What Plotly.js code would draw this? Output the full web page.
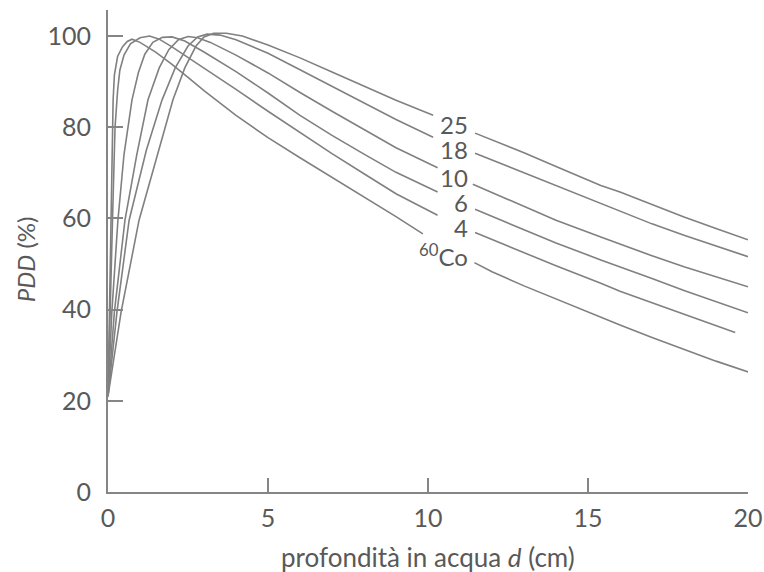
<!DOCTYPE html>
<html>
<head>
<meta charset="utf-8">
<script src="https://cdn.plot.ly/plotly-3.0.1.min.js"></script>
<style>html,body{margin:0;padding:0;background:#fff;}#chart{width:764px;height:572px;}</style>
</head>
<body>
<div id="chart"></div>
<script>
// Depth (cm) and PDD (%) for each beam; null marks the gap behind the curve label
const co60_d = [0,0.04,0.1,0.16,0.2,0.3,0.45,0.6,0.75,1.0,1.5,2,2.5,3,4,5,6,7,8,9,9.84,null,11.45,12,13,14,15,16,17,18,19,20.1];
const co60_p = [21,39.5,59.6,86,91.5,95.5,97.6,98.8,99.3,98.6,96.4,93.8,90.9,88.0,82.6,77.7,73.3,69,64.7,60.4,56.6,null,50.3,48.3,45.2,42.3,39.4,36.6,33.9,31.3,28.7,26.1];

const mv4_d = [0,0.06,0.14,0.22,0.3,0.37,0.5,0.7,1.0,1.3,1.6,2,3,4,5,6,7,8,9,10.3,null,11.47,13,14,15.4,16,17,18,19,19.6];
const mv4_p = [21,39.5,59.6,80,88,92.5,95.8,98.3,99.6,100,99.3,97.6,93,88.3,83.5,78.8,74.2,69.8,65.4,60.7,null,56.9,52.4,49.6,45.8,44.0,41.5,39.0,36.5,35.0];

const mv6_d = [0,0.12,0.31,0.5,0.75,0.95,1.15,1.4,1.7,2.0,2.4,3,4,5,6,7,8,9,10.3,null,11.47,13,14,15.4,16,17,18,19,20];
const mv6_p = [21,39.5,59.6,74,86,92,96,98.6,99.7,99.8,98.9,96.5,92.2,87.5,82.6,78.2,74.1,70.1,65.8,null,62,57.5,54.6,50.9,49.3,46.8,44.2,41.7,39.3];

const mv10_d = [0,0.2,0.53,0.9,1.25,1.6,1.9,2.2,2.5,2.8,3.2,4,5,6,7,8,9,10.3,null,11.4,13,14,15.4,16,17,18,19,20];
const mv10_p = [21,39.5,59.6,74,86,93,97,99.2,99.9,99.6,98.6,95.8,91.9,87.6,83.5,79.5,75.5,71.1,null,67.5,62.6,59.6,55.9,54.3,51.8,49.4,47.2,45];

const mv18_d = [0,0.28,0.66,1.2,1.69,2.1,2.5,2.8,3.1,3.5,4,5,6,7,8,9,10.16,null,11.47,13,14,15.4,16,17,18,19,20];
const mv18_p = [21,39.5,59.6,75,86,93,97.8,99.8,100.4,100.2,99.2,96.2,92.6,89,85.4,81.7,77.8,null,74.3,70,67.2,63.2,61.5,58.8,56.3,53.9,51.6];

const mv25_d = [0,0.41,0.97,1.5,2.03,2.4,2.75,3.0,3.3,3.7,4.2,5,6,7,8,9,10.16,null,11.47,13,14,15.4,16,17,18,19,20];
const mv25_p = [21,39.5,59.6,73,86,93,97.8,99.8,100.6,100.6,100,98,95.2,92.1,89,85.9,82.6,null,78.7,74.4,71.4,67.2,65.8,63,60.3,57.8,55.3];

const curveNames = ['<sup>60</sup>Co','4','6','10','18','25'];
const labelX = [11.3, 11.3, 11.3, 11.3, 11.3, 11.3];
const labelY = [52, 57.9, 63.4, 68.9, 75, 80.5];

const xTickVals = [0,5,10,15,20];
const xTickMarks = [5,10,15];
const yTickVals = [0,20,40,60,80,100];

const xTitle = 'profondità in acqua <i>d</i> (cm)';
const yTitle = '<i>PDD</i> (%)';

const lineColor = '#808080';
const textColor = '#595959';
const axisColor = '#858585';
const FONT = 'Lato, "Open Sans", sans-serif';

const series = [[co60_d,co60_p],[mv4_d,mv4_p],[mv6_d,mv6_p],[mv10_d,mv10_p],[mv18_d,mv18_p],[mv25_d,mv25_p]];
const traces = series.map((s,i)=>({
  x: s[0], y: s[1], type:'scatter', mode:'lines', name: curveNames[i],
  line:{color:lineColor, width:1.6}, connectgaps:false, hoverinfo:'skip'
}));
// invisible trace hosting the tick-label axis
traces.push({x:[0,20], y:[0,0], xaxis:'x2', type:'scatter', mode:'lines', line:{width:0}, showlegend:false, hoverinfo:'skip'});

const annotations = curveNames.map((n,i)=>({
  x: labelX[i], y: labelY[i], xref:'x', yref:'y', text:n, showarrow:false,
  xanchor:'right', yanchor:'middle', font:{family:FONT, size:24, color:textColor}
}));
annotations.push({
  x:0.5, y:0, xref:'paper', yref:'paper', yshift:-65, xanchor:'center', yanchor:'middle',
  text:xTitle, showarrow:false, font:{family:FONT, size:26, color:textColor}
});
annotations.push({
  x:0, y:0.483, xref:'paper', yref:'paper', xshift:-83, xanchor:'center', yanchor:'middle',
  text:yTitle, textangle:-90, showarrow:false, font:{family:FONT, size:24, color:textColor}
});

const layout = {
  width:764, height:572,
  margin:{l:108, r:16, t:10, b:80},
  paper_bgcolor:'#fff', plot_bgcolor:'#fff',
  showlegend:false,
  font:{family:FONT, color:textColor},
  xaxis:{
    range:[0,20], tickmode:'array', tickvals:xTickMarks, showticklabels:false,
    ticks:'inside', ticklen:14, tickwidth:2, tickcolor:axisColor,
    showline:true, linecolor:axisColor, linewidth:2, showgrid:false, zeroline:false, fixedrange:true
  },
  xaxis2:{
    overlaying:'x', side:'bottom', range:[0,20], tickmode:'array', tickvals:xTickVals,
    ticks:'', showline:false, showgrid:false, zeroline:false,
    tickfont:{family:FONT, size:25, color:textColor}, ticklabelstandoff:9
  },
  yaxis:{
    range:[0,105.7], tickmode:'array', tickvals:yTickVals,
    ticks:'inside', ticklen:15, tickwidth:2, tickcolor:axisColor,
    showline:true, linecolor:axisColor, linewidth:2, showgrid:false, zeroline:false,
    tickfont:{family:FONT, size:25, color:textColor}, ticklabelstandoff:10
  },
  annotations: annotations
};

Plotly.newPlot('chart', traces, layout, {displayModeBar:false, staticPlot:true});
</script>
</body>
</html>
